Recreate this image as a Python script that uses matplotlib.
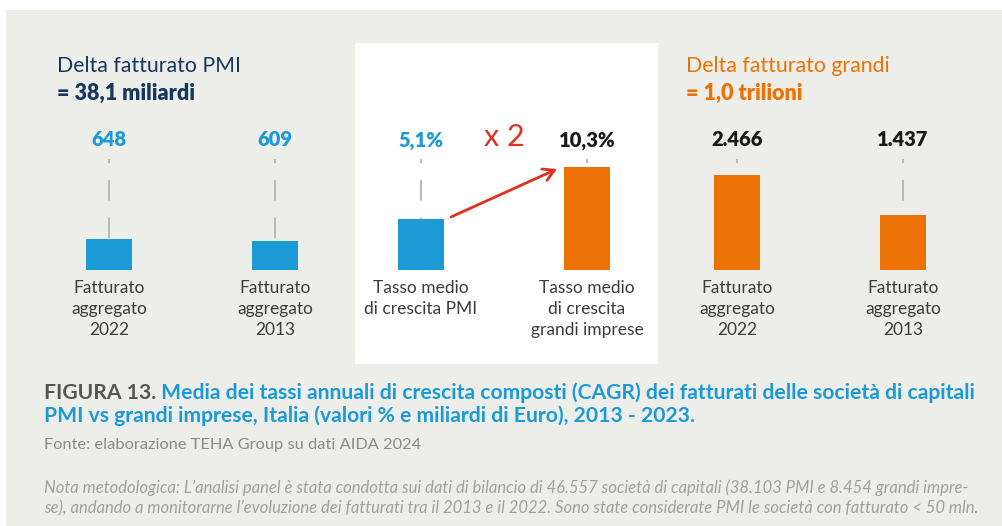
import matplotlib
matplotlib.use("Agg")
import matplotlib.pyplot as plt
from matplotlib.patches import Rectangle

# ---------------- data ----------------
pmi_labels = ["Fatturato\naggregato\n2022", "Fatturato\naggregato\n2013"]
pmi_values = [648, 609]
pmi_value_text = ["648", "609"]

rate_labels = ["Tasso medio\ndi crescita PMI", "Tasso medio\ndi crescita\ngrandi imprese"]
rate_values = [5.1, 10.3]
rate_value_text = ["5,1%", "10,3%"]

big_labels = ["Fatturato\naggregato\n2022", "Fatturato\naggregato\n2013"]
big_values = [2466, 1437]
big_value_text = ["2.466", "1.437"]

title_pmi = ["Delta fatturato PMI", "= 38,1 miliardi"]
title_big = ["Delta fatturato grandi", "= 1,0 trilioni"]
multiplier_text = "x 2"

caption_head = "FIGURA 13."
caption_line1 = " Media dei tassi annuali di crescita composti (CAGR) dei fatturati delle società di capitali"
caption_line2 = "PMI vs grandi imprese, Italia (valori % e miliardi di Euro), 2013 - 2023."
source_text = "Fonte: elaborazione TEHA Group su dati AIDA 2024"
note_lines = [
    "Nota metodologica: L’analisi panel è stata condotta sui dati di bilancio di 46.557 società di capitali (38.103 PMI e 8.454 grandi impre-",
    "se), andando a monitorarne l’evoluzione dei fatturati tra il 2013 e il 2022. Sono state considerate PMI le società con fatturato < 50 mln.",
]

# ---------------- style / layout ----------------
W, H = 1002, 526
BLUE = "#1b9ad6"
ORANGE = "#ec7205"
NAVY = "#17375e"
RED = "#e0301e"
BG = "#edeee9"
LABEL_C = "#3c3c3c"
FONT = "Lato"

plt.rcParams["font.family"] = [FONT, "DejaVu Sans"]
plt.rcParams["lines.scale_dashes"] = False

fig = plt.figure(figsize=(W / 100, H / 100), dpi=100)
fig.patch.set_facecolor("white")


def fx(x):
    return x / W


def fy(y):
    return 1 - y / H


# backgrounds
fig.add_artist(Rectangle((fx(6), 0), 1 - fx(6), fy(10), transform=fig.transFigure,
                         facecolor=BG, edgecolor="none", zorder=0))
fig.add_artist(Rectangle((fx(355), fy(364)), fx(658) - fx(355), fy(43) - fy(364),
                         transform=fig.transFigure, facecolor="white", edgecolor="none", zorder=0))

# bar axes (shared pixel x-scale, own y-scale per group)
base_px, top_px = 270, 100
ax_rect = [0, fy(base_px), 1, (base_px - top_px) / H]
line_top_frac = (base_px - 159) / (base_px - top_px)
bar_w = 46

groups = [
    (pmi_values, pmi_labels, pmi_value_text, [109, 275], BLUE, [BLUE, BLUE], 3542),
    (rate_values, rate_labels, rate_value_text, [421, 587], None, [BLUE, "#1a1a1a"], 17.0),
    (big_values, big_labels, big_value_text, [737, 903], ORANGE, ["#1a1a1a", "#1a1a1a"], 4415),
]
rate_ax = None
for vals, labs, vtxt, xs, col, vcols, ytop in groups:
    ax = fig.add_axes(ax_rect)
    ax.set_xlim(0, W)
    ax.set_ylim(0, ytop)
    ax.axis("off")
    ax.patch.set_alpha(0)
    cols = [col, col] if col else [BLUE, ORANGE]
    ax.bar(xs, vals, width=bar_w, color=cols, zorder=3)
    for x, v, t, vc, lab in zip(xs, vals, vtxt, vcols, labs):
        ax.plot([x, x], [line_top_frac * ytop, v], color="#b5b5b5", lw=1.3,
                linestyle=(12, (15, 12)), zorder=2, solid_capstyle="butt")
        ax.text(x, (base_px - 140) / (base_px - top_px) * ytop, t, ha="center", va="center",
                fontsize=14.5, fontweight="heavy", color=vc)
        ax.text(x, -(280 - base_px) / (base_px - top_px) * ytop, lab, ha="center", va="top",
                fontsize=12.5, color=LABEL_C, linespacing=1.38)
    if col is None:
        rate_ax = ax

# arrow and multiplier
rate_ax.annotate("", xy=(557, (base_px - 169) / 10), xytext=(451, (base_px - 217) / 10),
                 arrowprops=dict(arrowstyle="->,head_length=0.8,head_width=0.45", color=RED, lw=2,
                                 shrinkA=0, shrinkB=0))
fig.text(fx(484), fy(137), multiplier_text, fontsize=22, color=RED, ha="left", va="center")

# titles
fig.text(fx(57), fy(66), title_pmi[0], fontsize=15.3, color=NAVY, va="center")
fig.text(fx(57), fy(93), title_pmi[1], fontsize=15.5, color=NAVY, va="center", fontweight="heavy")
fig.text(fx(686), fy(66), title_big[0], fontsize=15.3, color=ORANGE, va="center")
fig.text(fx(686), fy(93), title_big[1], fontsize=15.5, color=ORANGE, va="center", fontweight="heavy")

# caption
t1 = fig.text(fx(44), fy(393), caption_head, fontsize=15.2, color="#555555", fontweight="bold", va="center")
fig.canvas.draw()
bb = t1.get_window_extent()
fig.text(bb.x1 / W, fy(393), caption_line1, fontsize=15.2, color=BLUE, fontweight="bold", va="center")
fig.text(fx(44), fy(416), caption_line2, fontsize=15.2, color=BLUE, fontweight="bold", va="center")
fig.text(fx(44), fy(445), source_text, fontsize=11.8, color="#8a8a8a", va="center")
for i, line in enumerate(note_lines):
    fig.text(fx(44), fy(488 + 20 * i), line, fontsize=11.95, color="#a0a0a0", va="center",
             style="italic")

fig.savefig("out.png", dpi=100, facecolor=fig.get_facecolor())
